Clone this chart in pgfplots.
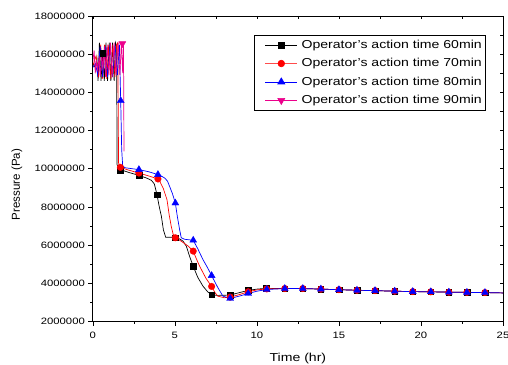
\documentclass[border=0pt]{standalone}
\usepackage{fontspec}
\setmainfont{Liberation Sans}[FakeStretch=1.22]
\newfontfamily\ylfont{Liberation Sans}
\usepackage{pgfplots}
\pgfplotsset{compat=1.18}
\newcommand{\tailpts}{(11.7,3.72)(12.8,3.72)(13.9,3.69)(15.0,3.66)(16.1,3.63)(17.2,3.61)(18.4,3.58)(19.5,3.56)(20.6,3.55)(21.7,3.53)(22.8,3.52)(23.9,3.51)}
\begin{document}
\begin{tikzpicture}
\begin{axis}[
  name=main,
  width=411bp, height=306bp, scale only axis,
  xmin=0, xmax=25, ymin=2, ymax=18,
  xtick={0,5,...,25}, minor x tick num=1,
  ytick={2,4,...,18}, minor y tick num=1,
  yticklabels={2000000,4000000,6000000,8000000,10000000,12000000,14000000,16000000,18000000},
  xtick pos=left, ytick pos=left, tick align=outside,
  major tick length=4.5bp, minor tick length=2.5bp,
  axis line style={line width=0.8bp},
  every tick/.style={line width=0.6bp, black},
  /pgf/number format/assume math mode=true,
  tick label style={font=\fontsize{9.3}{10}\selectfont},
  xticklabel style={yshift=-3bp},
  xlabel={Time (hr)},
  ylabel={\ylfont Pressure (Pa)},
  label style={font=\fontsize{11.6}{13}\selectfont},
  x label style={at={(axis description cs:0.5,-0.121)}, anchor=center},
  y label style={at={(axis description cs:-0.185,0.448)}, anchor=center},
  legend cell align=left,
  legend style={at={(axis description cs:0.9586,0.938)}, anchor=north east,
    draw=black, line width=0.6bp, font=\fontsize{11.6}{13}\selectfont,
    row sep=4.6bp, inner xsep=2bp, inner ysep=3bp},
  legend image code/.code={\path (-9bp,0bp) (34bp,0bp); \draw[mark repeat=2,mark phase=2,#1] plot coordinates {(0bp,0bp)(16bp,0bp)(32bp,0bp)};},
]
\addlegendimage{black, line width=0.7bp, mark=square*, mark size=2.8bp}
\addlegendentry{Operator's action time 60min}
\addlegendimage{red!70, line width=0.7bp, mark=*, mark size=3.3bp, mark options={fill=red, draw=red}}
\addlegendentry{Operator's action time 70min}
\addlegendimage{blue, line width=0.7bp, mark=triangle*, mark size=4bp}
\addlegendentry{Operator's action time 80min}
\addlegendimage{magenta, line width=0.7bp, mark=triangle*, mark size=4bp, mark options={rotate=180}}
\addlegendentry{Operator's action time 90min}
% 60 min
\addplot[black, line width=0.7bp, forget plot] coordinates {
(0,15.5)(0.15,15.3)(0.25,15.8)(0.32,14.6)(0.40,16.6)(0.50,14.6)(0.60,16.1)(0.70,14.6)(0.80,16.6)(0.90,14.6)(1.00,16.6)(1.10,14.6)(1.20,16.6)(1.30,14.6)(1.38,16.6)(1.45,16.4)(1.48,10.2)(1.68,9.95)(2.2,9.8)(2.81,9.65)(3.3,9.5)(3.57,9.39)(3.75,9.2)(3.91,8.64)(4.05,8.0)(4.18,7.5)(4.3,6.8)(4.44,6.41)(4.9,6.4)(5.29,6.32)(5.5,6.2)(5.7,5.94)(5.9,5.4)(6.12,4.88)(6.4,4.3)(6.71,3.85)(7.0,3.55)(7.24,3.40)(7.6,3.36)(8.37,3.38)(9.0,3.52)(9.47,3.62)(10.0,3.69)(10.58,3.73)
(11.7,3.72)(12.8,3.72)(13.9,3.69)(15.0,3.66)(16.1,3.63)(17.2,3.61)(18.4,3.58)(19.5,3.56)(20.6,3.55)(21.7,3.53)(22.8,3.52)(23.9,3.51)(25,3.49)};
\addplot[only marks, black, mark=square*, mark size=2.8bp, forget plot] coordinates {
(0.6,16.05)(1.68,9.91)(2.81,9.65)(3.91,8.64)(5.03,6.38)(6.12,4.88)(7.24,3.40)(8.37,3.38)(9.47,3.62)(10.58,3.73)\tailpts};
% 70 min
\addplot[red, line width=0.7bp, forget plot] coordinates {
(0,15.4)(0.2,15.9)(0.35,14.8)(0.48,16.5)(0.6,14.7)(0.72,16.5)(0.85,14.7)(0.97,16.5)(1.1,14.7)(1.22,16.5)(1.35,14.8)(1.45,16.5)(1.52,16.6)(1.57,10.3)(1.68,10.07)(2.2,9.92)(2.81,9.77)(3.4,9.62)(3.97,9.46)(4.08,9.34)(4.3,8.95)(4.52,8.38)(4.65,7.6)(4.78,6.98)(4.9,6.55)(5.03,6.38)(5.39,6.2)(5.8,5.95)(6.12,5.68)(6.3,5.3)(6.51,4.89)(6.9,4.25)(7.24,3.83)(7.45,3.5)(7.62,3.32)(8.0,3.24)(8.37,3.27)(9.0,3.42)(9.47,3.55)(10.0,3.65)(10.6,3.70)
(11.7,3.72)(12.8,3.72)(13.9,3.69)(15.0,3.66)(16.1,3.63)(17.2,3.61)(18.4,3.58)(19.5,3.56)(20.6,3.55)(21.7,3.53)(22.8,3.52)(23.9,3.51)(25,3.49)};
\addplot[only marks, red, mark=*, mark size=3.3bp, forget plot] coordinates {
(1.68,10.07)(2.81,9.77)(3.97,9.46)(5.03,6.38)(6.12,5.68)(7.24,3.83)(8.37,3.27)(9.47,3.55)(10.6,3.70)\tailpts};
% 80 min
\addplot[blue, line width=0.7bp, forget plot] coordinates {
(0,15.3)(0.16,15.5)(0.3,14.9)(0.45,16.4)(0.6,14.8)(0.75,16.4)(0.9,14.8)(1.05,16.5)(1.2,14.8)(1.35,16.5)(1.5,14.9)(1.62,16.5)(1.70,13.56)(1.76,11.0)(1.82,10.15)(1.95,10.05)(2.81,9.95)(3.4,9.84)(3.97,9.69)(4.2,9.6)(4.38,9.51)(4.55,9.35)(4.68,9.07)(4.85,8.7)(5.03,8.2)(5.15,7.5)(5.29,6.81)(5.39,6.38)(5.6,6.3)(6.12,6.25)(6.4,5.8)(6.71,5.24)(7.0,4.8)(7.24,4.4)(7.6,3.8)(7.93,3.32)(8.37,3.2)(9.0,3.34)(9.47,3.46)(10.0,3.58)(10.6,3.67)
(11.7,3.72)(12.8,3.72)(13.9,3.69)(15.0,3.66)(16.1,3.63)(17.2,3.61)(18.4,3.58)(19.5,3.56)(20.6,3.55)(21.7,3.53)(22.8,3.52)(23.9,3.51)(25,3.49)};
\addplot[only marks, blue, mark=triangle*, mark size=4bp, forget plot] coordinates {
(1.70,13.56)(2.81,9.95)(3.97,9.69)(5.03,8.2)(6.12,6.25)(7.24,4.4)(8.37,3.2)(9.47,3.46)(10.6,3.67)\tailpts};
% 90 min
\addplot[magenta, line width=0.7bp, forget plot] coordinates {
(0,15.6)(0.08,16.2)(0.15,15.0)(0.22,15.7)(0.3,15.1)(0.38,15.9)(0.45,14.8)(0.55,16.0)(0.62,15.2)(0.7,16.4)(0.78,14.8)(0.88,16.5)(0.98,14.9)(1.08,16.6)(1.18,14.8)(1.3,16.6)(1.42,14.9)(1.55,16.6)(1.65,14.9)(1.74,16.6)(1.82,15.0)(1.87,16.6)(1.9,10.9)};
\addplot[only marks, magenta, mark=triangle*, mark size=4bp, mark options={rotate=180}, forget plot] coordinates {(1.8,16.55)};
\end{axis}
\begin{axis}[
  width=411bp, height=306bp, scale only axis,
  xmin=0, xmax=25, ymin=2, ymax=18,
  xtick={0,2.5,...,25}, ytick={2,3,...,18},
  xticklabels={}, yticklabels={},
  xtick pos=right, ytick pos=right, tick align=inside,
  major tick length=3bp,
  axis line style={line width=0.8bp},
  every tick/.style={line width=0.6bp, black},
]
\end{axis}
\pgfresetboundingbox
\path ([xshift=-93bp,yshift=-43bp]main.south west) rectangle ([xshift=5bp,yshift=16bp]main.north east);
\end{tikzpicture}
\end{document}
